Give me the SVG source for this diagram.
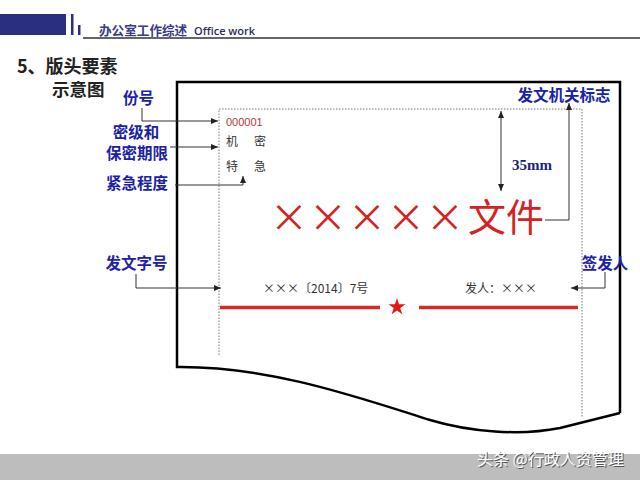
<svg xmlns="http://www.w3.org/2000/svg" width="640" height="480" viewBox="0 0 640 480">
<style>
.lbl{font-family:"Noto Sans CJK SC","Liberation Sans",sans-serif;font-weight:bold;font-size:15.5px;fill:#1b22a6;}
.doc{font-family:"Noto Sans CJK SC","Liberation Sans",sans-serif;font-size:12px;fill:#333;}
.con{fill:none;stroke:#333;stroke-width:1;}
.dot{fill:none;stroke:#777;stroke-width:1;stroke-dasharray:1.5 1.5;}
.red{stroke:#d42a2a;stroke-width:3.5;}
</style>
<defs>
<marker id="ah" markerUnits="userSpaceOnUse" markerWidth="7" markerHeight="6" refX="7" refY="3" orient="auto">
<path d="M0,0 L7,3 L0,6 z" fill="#222"/>
</marker>
<marker id="ahs" markerUnits="userSpaceOnUse" markerWidth="7" markerHeight="6" refX="0" refY="3" orient="auto">
<path d="M7,0 L0,3 L7,6 z" fill="#222"/>
</marker>
</defs>
<rect width="640" height="480" fill="#fff"/>
<!-- header -->
<g id="header">
<rect x="0" y="14" width="66" height="21" fill="#2a2f80"/>
<rect x="71" y="14" width="2.5" height="21" fill="#2a2f80"/>
<rect x="78" y="25" width="2.5" height="10" fill="#2a2f80"/>
<line x1="83" y1="38" x2="640" y2="38" stroke="#333" stroke-width="1.5"/>
<text x="99" y="35" font-family="'Noto Sans CJK SC',sans-serif" font-weight="bold" font-size="12.6" fill="#3a3a8c">办公室工作综述</text>
<text x="194" y="34.5" font-family="'Open Sans','Liberation Sans',sans-serif" font-weight="600" font-size="11" fill="#2b2b5e">Office work</text>
</g>
<g id="title">
<text x="17" y="73" font-family="'Noto Sans CJK SC',sans-serif" font-weight="bold" font-size="18" fill="#222">5、版头要素</text>
<text x="52" y="96" font-family="'Noto Sans CJK SC',sans-serif" font-weight="bold" font-size="17.5" fill="#222">示意图</text>
</g>
<!-- page -->
<g id="page">
<path d="M620,413 V82 H177 V367 C270,366 360,398 430,420 C470,432 520,436 560,428 L620,413" fill="#fff" stroke="#000" stroke-width="2.5" stroke-linejoin="miter"/>
<path class="dot" d="M219,355 V109 H582 V418"/>
</g>
<g id="doc-text">
<text x="226" y="126" font-family="'Liberation Sans',sans-serif" font-size="11" fill="#b03a3a">000001</text>
<text x="226" y="146" class="doc">机</text>
<text x="254" y="146" class="doc">密</text>
<text x="226" y="171" class="doc">特</text>
<text x="254" y="171" class="doc">急</text>
<text font-family="'Noto Sans CJK SC',sans-serif" font-size="38" fill="#d42222" text-anchor="middle" x="289 328 367 406 445 487 525" y="231">×××××文件</text>
<text x="263" y="293" class="doc" font-size="12.5">×××〔2014〕7号</text>
<text x="465" y="293" class="doc" font-size="12.5">发人：×××</text>
<line class="red" x1="220" y1="307.5" x2="380" y2="307.5"/>
<line class="red" x1="419" y1="307.5" x2="578" y2="307.5"/>
<polygon fill="#e01818" points="397,298 399.02,304.22 405.56,304.22 400.27,308.06 402.29,314.28 397,310.44 391.71,314.28 393.73,308.06 388.44,304.22 394.98,304.22"/>
</g>
<!-- labels -->
<g id="label-fenhao"><text class="lbl" x="138.5" y="104" text-anchor="middle">份号</text></g>
<g id="label-miji"><text class="lbl" x="136" y="138" text-anchor="middle">密级和</text><text class="lbl" x="137" y="159" text-anchor="middle">保密期限</text></g>
<g id="label-jinji"><text class="lbl" x="137" y="189" text-anchor="middle">紧急程度</text></g>
<g id="label-jiguan"><text class="lbl" x="564" y="101" text-anchor="middle">发文机关标志</text></g>
<g id="label-35mm"><text x="532" y="170" text-anchor="middle" font-family="'Liberation Serif',serif" font-weight="bold" font-size="15" fill="#1a237e">35mm</text></g>
<g id="label-zihao"><text class="lbl" x="136.5" y="269" text-anchor="middle">发文字号</text></g>
<g id="label-qianfa"><text class="lbl" x="605" y="269" text-anchor="middle">签发人</text></g>
<!-- connectors -->
<g id="connectors">
<path class="con" d="M142,108 V121 H218" marker-end="url(#ah)"/>
<path class="con" d="M170,147 H218" marker-end="url(#ah)"/>
<path class="con" d="M175,185 H243 V176" marker-end="url(#ah)"/>
<path class="con" d="M545,220 H569 V103" marker-end="url(#ah)"/>
<path class="con" d="M501,111 V191" stroke="#111" marker-start="url(#ahs)" marker-end="url(#ah)"/>
<path class="con" d="M136,274 V288 H221" marker-end="url(#ah)"/>
<path class="con" d="M605,272 V288 H571" marker-end="url(#ah)"/>
</g>
<!-- footer -->
<g id="footer">
<rect x="0" y="454" width="640" height="26" fill="#bdbdbd"/>
<text x="478" y="466" font-family="'Noto Sans CJK SC',sans-serif" font-size="16" fill="#555">头条 @行政人资管理</text>
<text x="477" y="465" font-family="'Noto Sans CJK SC',sans-serif" font-size="16" fill="#fff">头条 @行政人资管理</text>
</g>
</svg>
